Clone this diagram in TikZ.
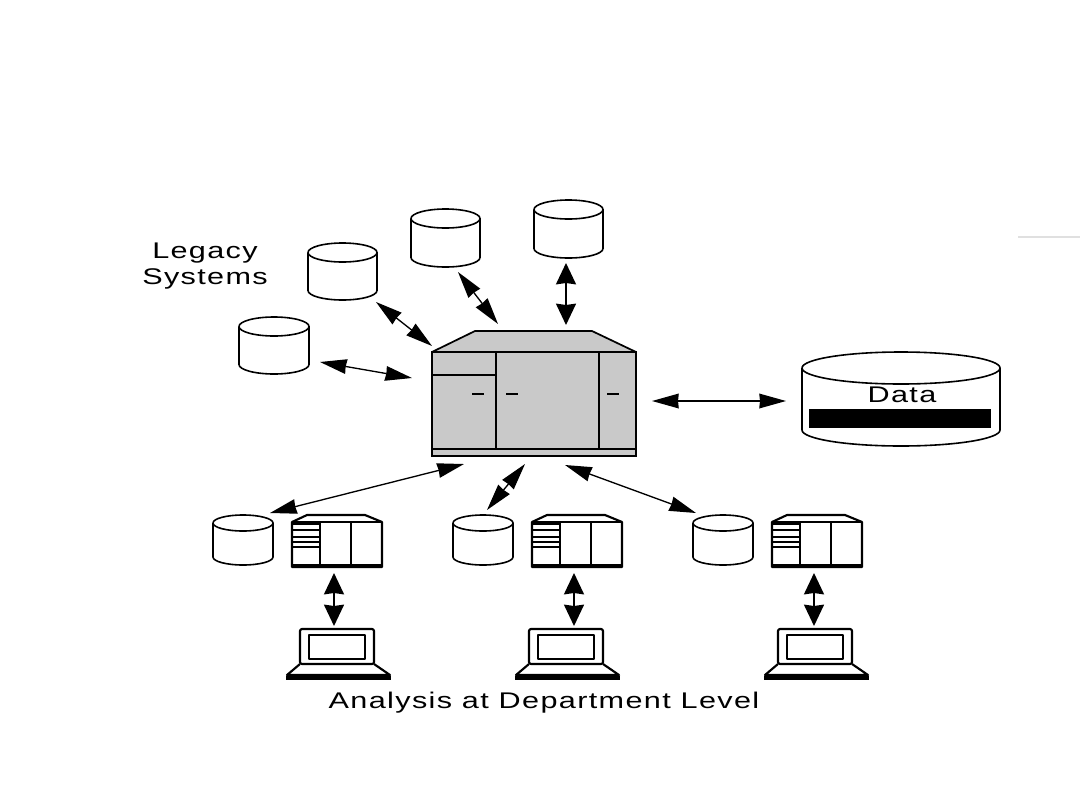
\documentclass[tikz,border=0pt]{standalone}
\usepackage{fontspec}
\setmainfont[FakeStretch=1.35,LetterSpace=6]{Liberation Sans}
\usetikzlibrary{arrows.meta}
\tikzset{
    biarrow/.style={{Stealth[length=20pt,width=11pt,inset=0.5pt]}-{Stealth[length=20pt,width=11pt,inset=0.5pt]},line width=1pt},
    heavyarrow/.style={{Stealth[length=16pt,width=15pt,inset=1pt]}-{Stealth[length=16pt,width=15pt,inset=1pt]},line width=1.4pt},
    label/.style={font=\fontsize{17}{20}\selectfont,inner sep=0pt},
    unit/.style={line width=1.6pt,line join=round},
    % width, height and depth of the top ellipse, in picture units
    pics/drum/.style n args={3}{code={
        \draw[line width=1.2pt,fill=white] (-#1/2,-#2/2+#3) -- (-#1/2,#2/2-#3)
            arc[start angle=180,end angle=0,x radius=#1/2,y radius=#3]
            -- (#1/2,-#2/2+#3)
            arc[start angle=0,end angle=-180,x radius=#1/2,y radius=#3];
        \draw[line width=1.2pt] (-#1/2,-#2/2+#3)
            arc[start angle=180,end angle=0,x radius=#1/2,y radius=#3];
    }},
    pics/server/.style={code={
        \draw[unit,fill=white] (292,567) -- (292,522) -- (307,515) -- (365,515) -- (382,522) -- (382,567) -- cycle;
        \draw[unit] (292,522) -- (382,522);
        \draw[unit] (320,522) -- (320,567);
        \draw[unit] (351,522) -- (351,567);
        \foreach \y in {524,530,537,542,547} {
            \draw[line width=1.1pt] (292,\y) -- (320,\y);
        }
        \draw[line width=2.6pt] (292,566) -- (382,566);
    }},
    pics/laptop/.style={code={
        \draw[unit,fill=white,rounded corners=1.5pt] (300,664) -- (300,629) -- (374,629) -- (374,664) -- cycle;
        \draw[unit] (309,635) rectangle (365,659);
        \draw[unit] (300,664) -- (287,675) -- (390,675) -- (374,664);
        \draw[line width=3pt] (286,678) -- (391,678);
    }}
}
\begin{document}
\begin{tikzpicture}[x=0.75pt,y=-0.75pt]
    \useasboundingbox (0,0) rectangle (1080,810);

    % Legacy systems
    \pic at (274,345.5) {drum={70}{57}{9.5}};
    \pic at (342.5,271.5) {drum={69}{57}{9.5}};
    \pic at (445.5,238) {drum={69}{58}{9.5}};
    \pic at (568.5,229) {drum={69}{58}{9.5}};
    \node[label,align=center] (legacy) at (205,266) {Legacy\\[-1pt]Systems};

    % Central machine
    \node[draw,fill=black!21,line width=1.8pt,minimum width=153pt,minimum height=78pt,inner sep=0pt,outer sep=0pt] (central) at (534,404) {};
    \draw[fill=black!21,line width=1.3pt,line join=round] (central.north west) -- (475,331) -- (592,331) -- (central.north east) -- cycle;
    \draw[line width=1.6pt] (496,352) -- (496,449);
    \draw[line width=1.6pt] (599,352) -- (599,449);
    \draw[line width=1.3pt] (432,375) -- (496,375);
    \draw[line width=1.3pt] (432,449) -- (636,449);
    \draw[line width=1.3pt] (472,394) -- (484,394);
    \draw[line width=1.3pt] (506,394) -- (518,394);
    \draw[line width=1.3pt] (607,394) -- (619,394);

    % Data store
    \pic at (901,399) {drum={198}{94}{16}};
    \node[fill=black,minimum width=137pt,minimum height=14.5pt,inner sep=0pt] (bar) at (900,418.5) {};
    \node[label] (data) at (902,395) {Data};

    % Arrow ends around the central machine
    \coordinate (a1) at (320,362); \coordinate (a2) at (412,378);
    \coordinate (b1) at (376,302); \coordinate (b2) at (432,346);
    \coordinate (c1) at (458,272); \coordinate (c2) at (498,324);
    \coordinate (d1) at (566,263); \coordinate (d2) at (566,325);
    \coordinate (e1) at (652,401); \coordinate (e2) at (786,401);
    \coordinate (f1) at (464,464); \coordinate (f2) at (270,513);
    \coordinate (g1) at (525,464); \coordinate (g2) at (487,510);
    \coordinate (h1) at (565,465); \coordinate (h2) at (696,513);

    \draw[biarrow] (a1) -- (a2);
    \draw[biarrow] (b1) -- (b2);
    \draw[biarrow] (c1) -- (c2);
    \draw[heavyarrow] (d1) -- (d2);
    \draw[biarrow] (e1) -- (e2);
    \draw[biarrow] (f1) -- (f2);
    \draw[biarrow] (g1) -- (g2);
    \draw[biarrow] (h1) -- (h2);

    % Departments
    \foreach \i/\dx/\lx in {p/0/0,q/240/229,r/480/478} {
        \pic at (243+\dx,540) {drum={60}{50}{8}};
        \pic[xshift=\dx*0.75pt] {server};
        \pic[xshift=\lx*0.75pt] {laptop};
        \coordinate (up\i) at (334+\dx,573);
        \coordinate (down\i) at (334+\dx,626);
        \draw[heavyarrow] (up\i) -- (down\i);
    }
    \node[label] (analysis) at (544,703) {Analysis at Department Level};

    % Rule at the right edge
    \coordinate (ruleA) at (1018,237);
    \coordinate (ruleB) at (1080,237);
    \draw[black!12,line width=0.8pt] (ruleA) -- (ruleB);
\end{tikzpicture}
\end{document}
